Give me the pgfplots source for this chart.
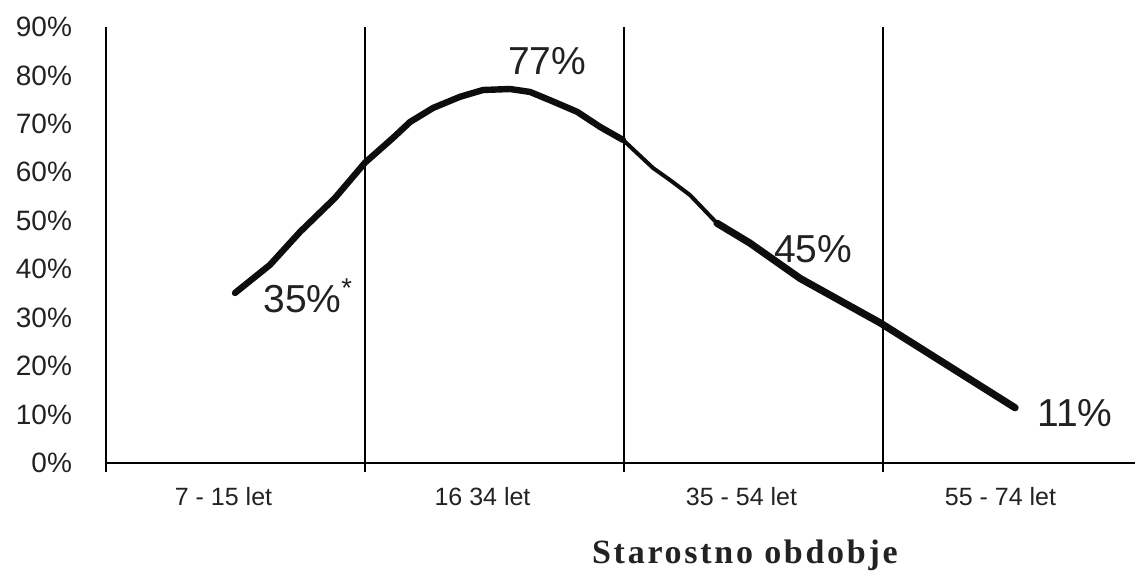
\documentclass[border=0pt]{standalone}
\usepackage{fontspec}
\setmainfont{Liberation Sans}
\newfontfamily\titlefont[LetterSpace=8]{Liberation Serif}
\usepackage{pgfplots}
\pgfplotsset{compat=1.18}
\definecolor{txt}{HTML}{222222}
\begin{document}
\begin{tikzpicture}
\begin{axis}[
  name=ax,
  scale only axis,
  width=514.5pt, height=218pt,
  xmin=0, xmax=3.973, ymin=0, ymax=90,
  axis lines=left,
  axis line style={-, line width=1pt, black},
  xtick={0,1,2,3},
  xticklabels={},
  xmajorgrids,
  major grid style={line width=1pt, black},
  x tick style={line width=1pt, black},
  major tick length=4.5pt,
  tick align=outside,
  extra x ticks={0.5,1.5,2.5,3.5},
  extra x tick labels={7 - 15 let, 16 34 let, 35 - 54 let, 55 - 74 let},
  extra x tick style={major tick length=0pt, grid=none,
    xticklabel style={font=\fontsize{12.5}{14}\selectfont, text=txt, yshift=-8.5pt, xshift=-6pt}},
  ytick={0,10,...,90},
  yticklabel={\pgfmathprintnumber{\tick}\%},
  y tick style={draw=none},
  y tick label style={font=\fontsize{14}{16}\selectfont, text=txt, xshift=-9pt},
  /pgf/number format/assume math mode=true,
  clip=false,
]
% rising part and peak
\addplot[line width=3.2pt, line join=round, line cap=round, color=black!95] coordinates {
  (0.498,35.1) (0.633,40.9) (0.749,47.7) (0.884,54.7) (1.0,62)
  (1.108,67.1) (1.174,70.4) (1.263,73.3) (1.367,75.6) (1.456,77)
  (1.56,77.2) (1.637,76.6) (1.714,74.9) (1.819,72.5) (1.907,69.4) (1.996,66.7)};
% thinner stretch
\addplot[line width=2pt, line join=round, line cap=round, color=black!95] coordinates {
  (1.996,66.7) (2.112,60.9) (2.178,58.4) (2.255,55.3) (2.359,49.5)};
% falling part
\addplot[line width=3.6pt, line join=round, line cap=round, color=black!95] coordinates {
  (2.359,49.5) (2.486,45.4) (2.68,38.1) (2.99,28.9) (3.51,11.4)};

\node[inner sep=0, anchor=west, text=txt, font=\fontsize{19.5}{22}\selectfont] at (axis cs:0.606,34.5) {35\%\textsuperscript{*}};
\node[inner sep=0, text=txt, font=\fontsize{19.5}{22}\selectfont] at (axis cs:1.703,83) {77\%};
\node[inner sep=0, text=txt, font=\fontsize{19.5}{22}\selectfont] at (axis cs:2.73,44.2) {45\%};
\node[inner sep=0, text=txt, font=\fontsize{19.5}{22}\selectfont] at (axis cs:3.741,10.3) {11\%};
\node[inner sep=0, anchor=base, text=txt, font=\titlefont\bfseries\fontsize{17}{19}\selectfont, yshift=-50pt] at (axis cs:2.467,0) {Starostno obdobje};
\end{axis}
\pgfresetboundingbox
\path[use as bounding box] ([shift={(-53pt,-56pt)}]ax.south west) rectangle ([shift={(514.5pt,231.5pt)}]ax.south west);
\end{tikzpicture}
\end{document}
